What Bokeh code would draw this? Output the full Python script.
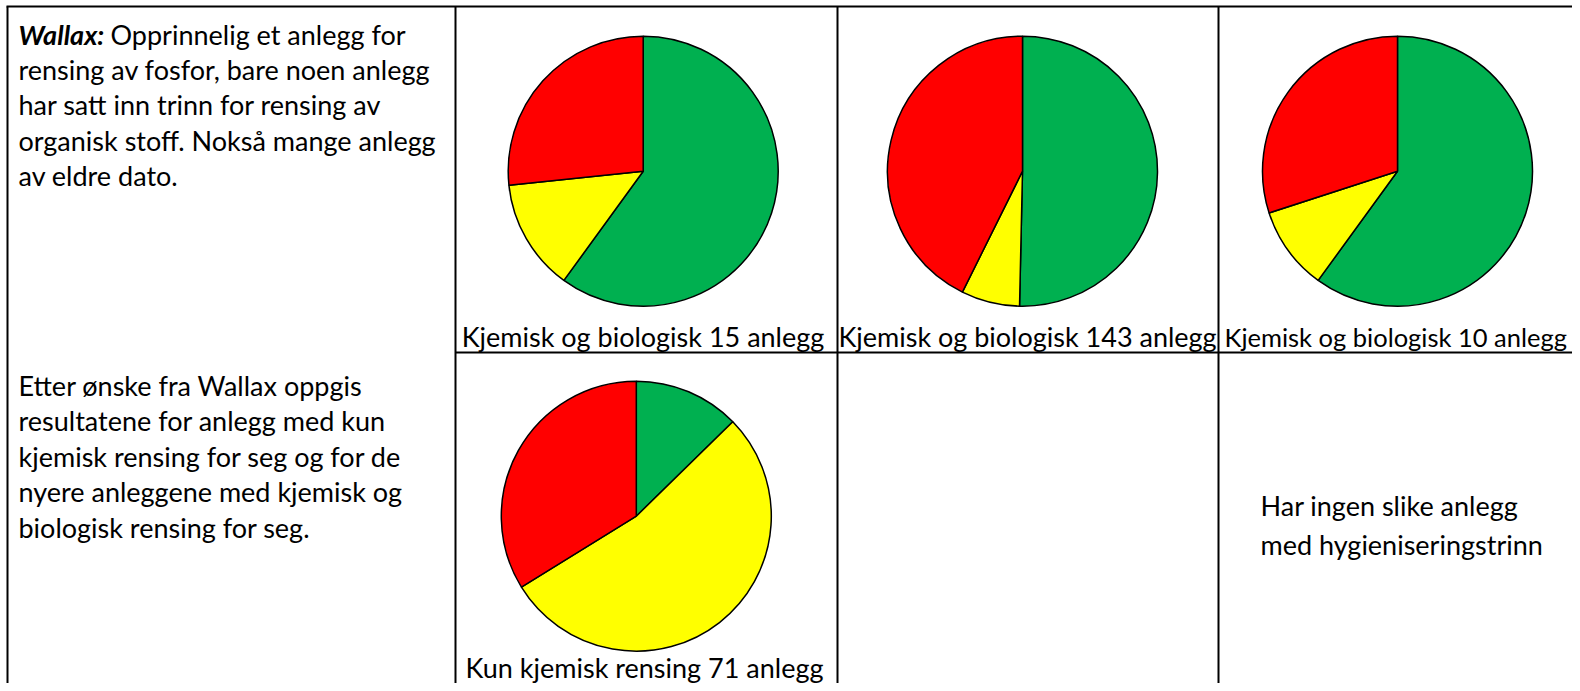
import numpy as np
from bokeh.plotting import figure
from bokeh.models import Range1d
from bokeh.core.properties import value
from bokeh.embed import file_html
from bokeh.resources import INLINE

# ---------------- data ----------------
categories = ["Grønn", "Gul", "Rød"]
colors = ["#00B050", "#FFFF00", "#FF0000"]
pie_titles = ["Kjemisk og biologisk 15 anlegg",
              "Kjemisk og biologisk 143 anlegg",
              "Kjemisk og biologisk 10 anlegg",
              "Kun kjemisk rensing 71 anlegg"]
green = [9, 72, 6, 9]
yellow = [2, 10, 1, 38]
red = [4, 61, 3, 24]

intro_bold = "Wallax:"
intro_rest = "Opprinnelig et anlegg for"
intro_lines = ["rensing av fosfor, bare noen anlegg",
               "har satt inn trinn for rensing av",
               "organisk stoff. Nokså mange anlegg",
               "av eldre dato."]
note_lines = ["Etter ønske fra Wallax oppgis",
              "resultatene for anlegg med kun",
              "kjemisk rensing for seg og for de",
              "nyere anleggene med kjemisk og",
              "biologisk rensing for seg."]
empty_lines = ["Har ingen slike anlegg",
               "med hygieniseringstrinn"]

# ---------------- layout ----------------
W, H = 1572, 683
PAGE_H = 691
def Y(py):
    return PAGE_H - py

FONT = "Lato"
FS = "27px"

p = figure(width=W, height=H, output_backend="svg", toolbar_location=None,
           x_range=Range1d(0, W), y_range=Range1d(PAGE_H - H, PAGE_H),
           min_border=0)
p.axis.visible = False
p.grid.visible = False
p.outline_line_color = None
p.background_fill_color = "white"
p.border_fill_color = "white"

# table borders
col_x = [7, 455, 837, 1218]
top_y, mid_y, bot_y = 6, 352, 700
p.segment(x0=[6], y0=[Y(top_y)], x1=[1600], y1=[Y(top_y)], line_color="black", line_width=2)
p.segment(x0=[455], y0=[Y(mid_y)], x1=[1600], y1=[Y(mid_y)], line_color="black", line_width=2)
p.segment(x0=col_x, y0=[Y(top_y)] * 4, x1=col_x, y1=[Y(bot_y)] * 4, line_color="black", line_width=2)

# pies
centers = [(642.7, 170.7), (1022, 170.7), (1397, 170.7), (635.8, 515.7)]
R = 135
label_pos = [(642.5, 336, "center", FS), (1027, 336, "center", FS),
             (1224, 336, "left", "25.5px"), (644, 667, "center", FS)]
for i, (cx, cy) in enumerate(centers):
    vals = np.array([green[i], yellow[i], red[i]], dtype=float)
    cum = np.concatenate([[0], np.cumsum(vals)]) / vals.sum() * 2 * np.pi
    # clockwise from 12 o'clock -> math angles
    starts = np.pi / 2 - cum[1:]
    ends = np.pi / 2 - cum[:-1]
    p.wedge(x=[cx] * 3, y=[Y(cy)] * 3, radius=R, start_angle=starts, end_angle=ends,
            direction="anticlock", fill_color=colors, line_color="black", line_width=1.5)
    lx, ly, al, fs = label_pos[i]
    p.text(x=[lx], y=[Y(ly)], text=[pie_titles[i]], text_font=value(FONT),
           text_font_size=fs, text_align=al, text_baseline="alphabetic", text_color="black")

# left column text
p.text(x=[18], y=[Y(33.5)], text=[intro_bold], text_font=value(FONT), text_font_size=FS,
       text_font_style="bold italic", text_align="left", text_baseline="alphabetic", text_color="black")
p.text(x=[110], y=[Y(33.5)], text=[intro_rest], text_font=value(FONT), text_font_size=FS,
       text_align="left", text_baseline="alphabetic", text_color="black")
p.text(x=[18] * len(intro_lines), y=[Y(69 + 35.4 * k) for k in range(len(intro_lines))],
       text=intro_lines, text_font=value(FONT), text_font_size=FS,
       text_align="left", text_baseline="alphabetic", text_color="black")
p.text(x=[18] * len(note_lines), y=[Y(385 + 35.4 * k) for k in range(len(note_lines))],
       text=note_lines, text_font=value(FONT), text_font_size=FS,
       text_align="left", text_baseline="alphabetic", text_color="black")
p.text(x=[1260] * len(empty_lines), y=[Y(505 + 39 * k) for k in range(len(empty_lines))],
       text=empty_lines, text_font=value(FONT), text_font_size=FS,
       text_align="left", text_baseline="alphabetic", text_color="black")

open("out.html", "w").write(file_html(p, INLINE))
